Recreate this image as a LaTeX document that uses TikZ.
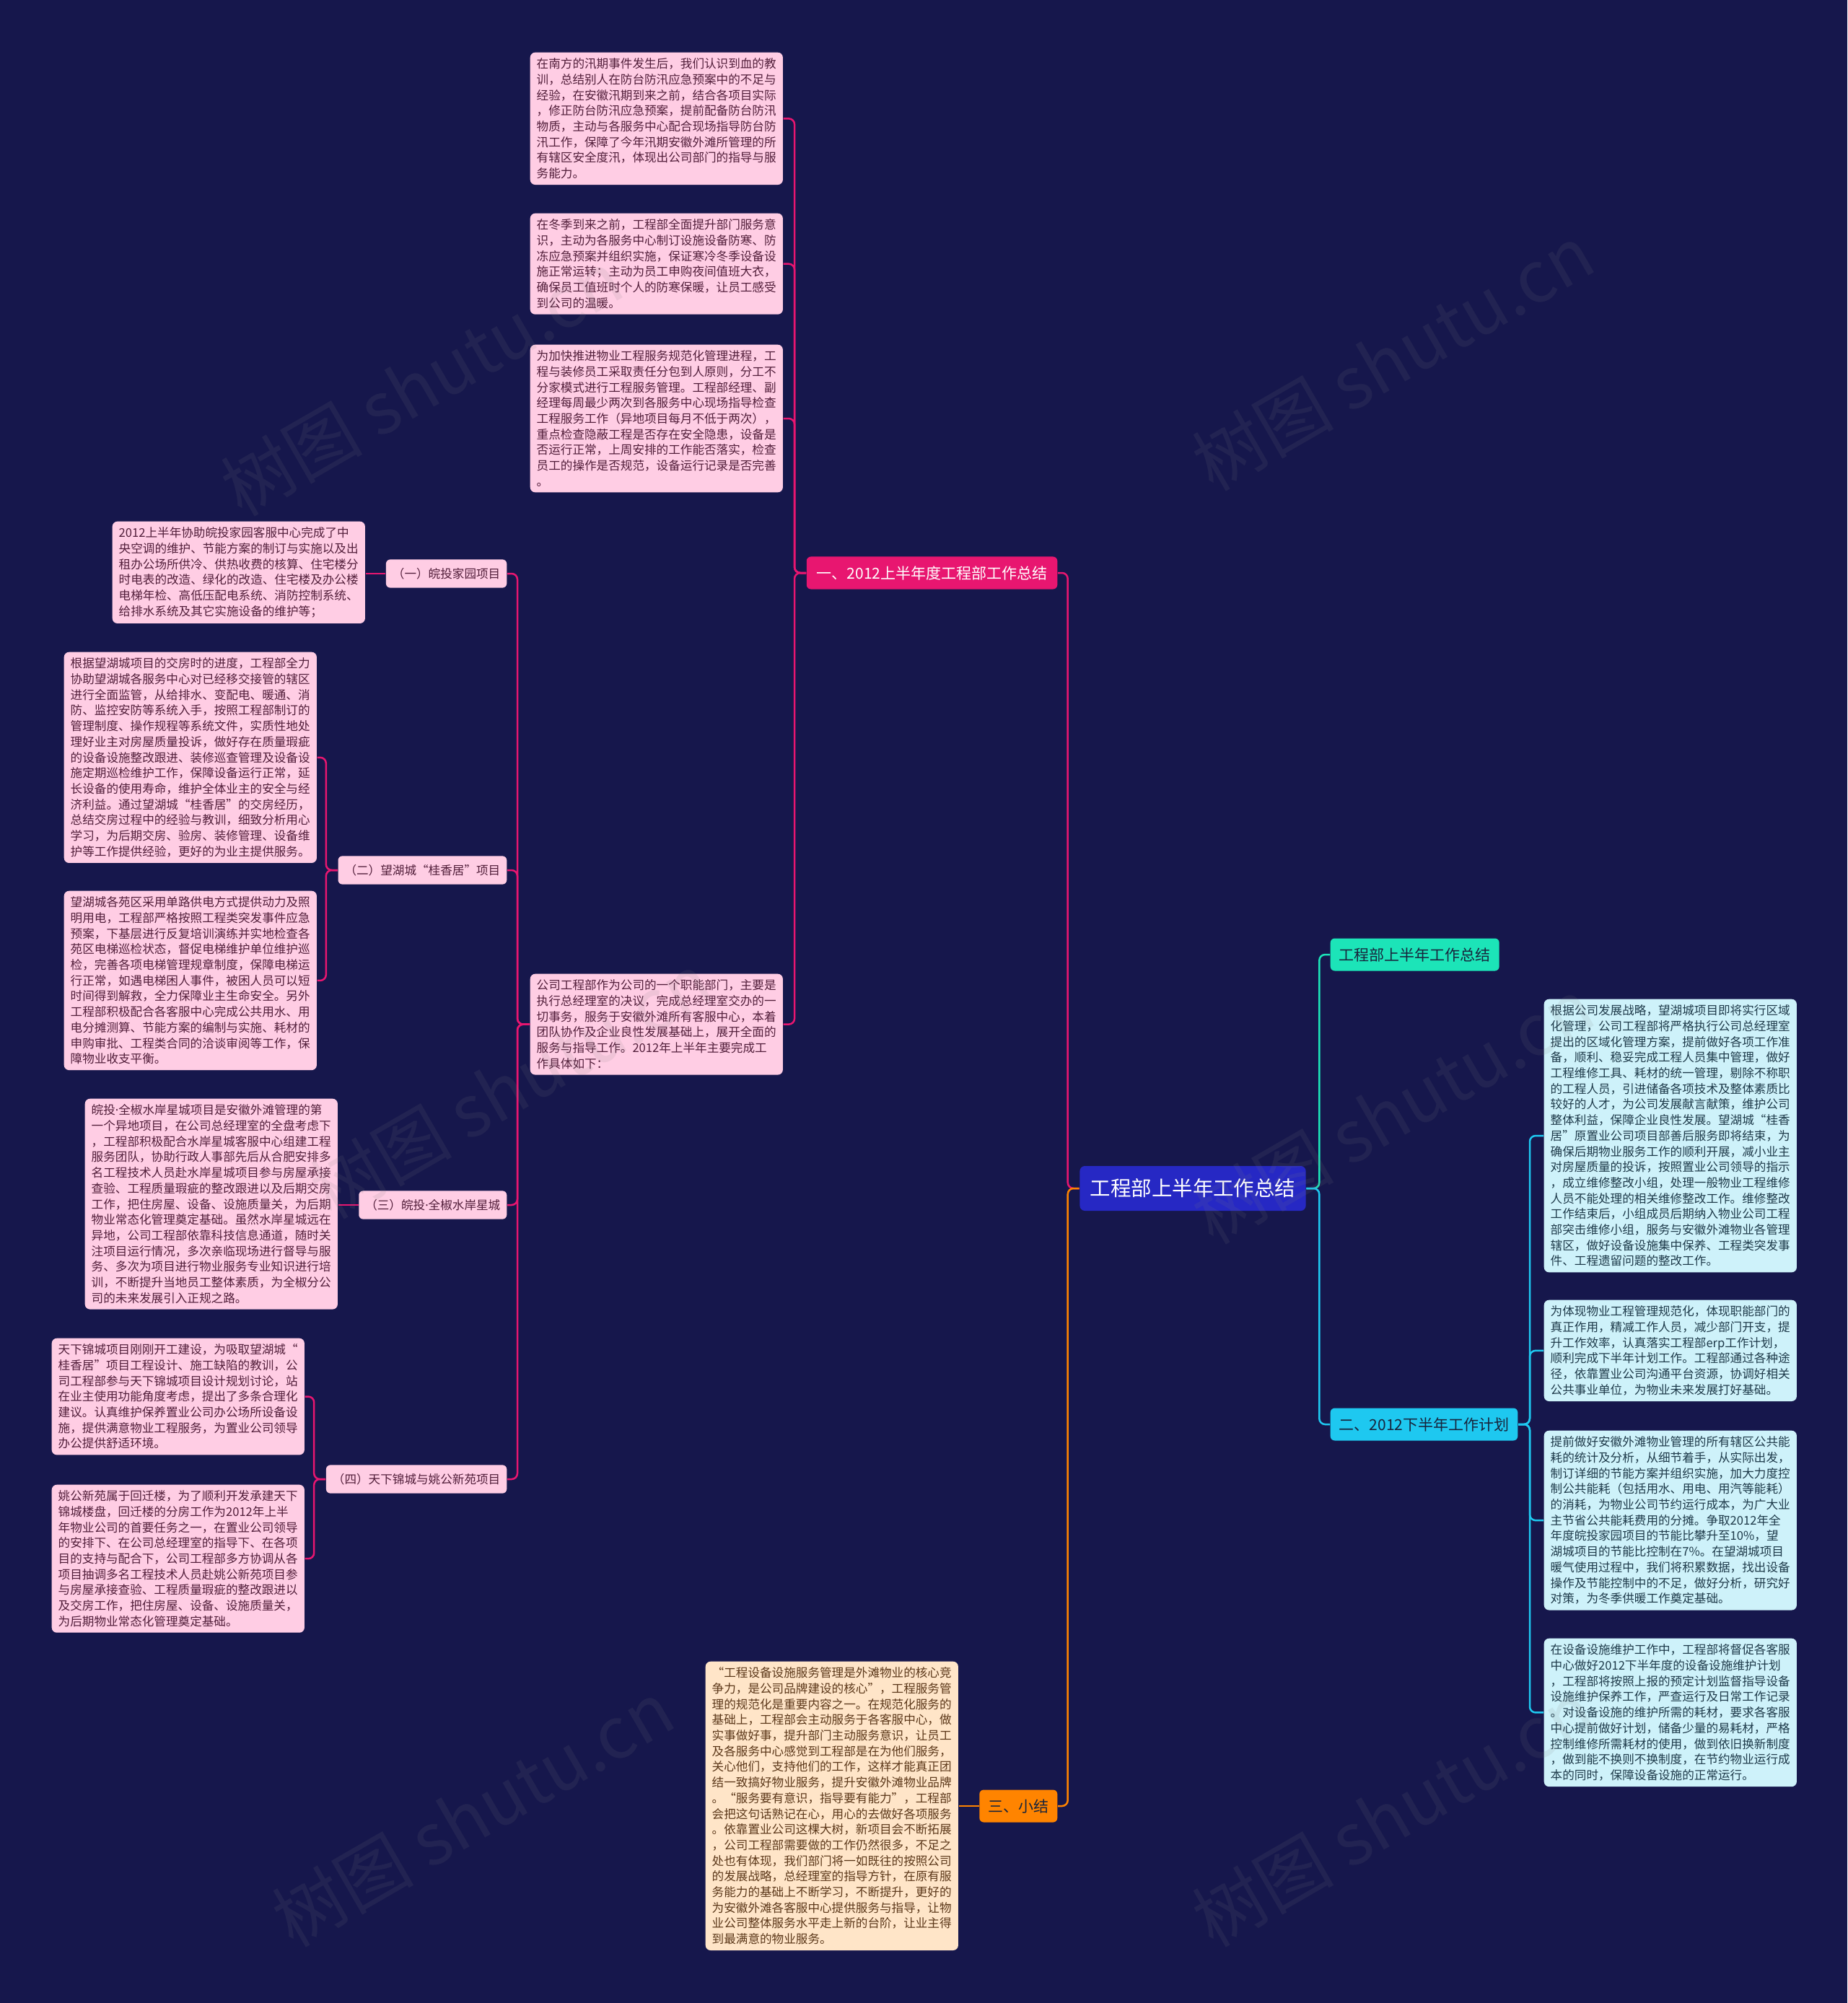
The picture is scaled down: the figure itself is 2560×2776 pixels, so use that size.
\documentclass[tikz,border=0pt]{standalone}
\usepackage{fontspec}
\setmainfont{Noto Sans CJK SC}
\newfontfamily\latinfont{Noto Sans}
\usepackage{tikz}
\definecolor{mynavy}{RGB}{22,23,76}
\definecolor{myblue}{RGB}{38,40,196}
\definecolor{mymagenta}{RGB}{232,22,112}
\definecolor{myteal}{RGB}{28,228,184}
\definecolor{mycyan}{RGB}{30,200,240}
\definecolor{myorange}{RGB}{255,132,0}
\definecolor{mypink}{RGB}{255,205,228}
\definecolor{mypinktext}{RGB}{82,30,58}
\definecolor{mypeach}{RGB}{255,229,200}
\definecolor{mypeachtext}{RGB}{92,56,26}
\definecolor{mylightcyan}{RGB}{206,242,250}
\definecolor{mycyantext}{RGB}{30,58,74}
\definecolor{mydark}{RGB}{24,36,60}
\newcommand{\middot}{{\latinfont ·}}

\begin{document}
\begin{tikzpicture}[x=0.01cm,y=-0.01cm,
  txt/.style={font=\fontsize{4.72}{6.17}\selectfont, align=left, text width=3.32cm,
    inner xsep=0.09cm, inner ysep=0.08cm, rounded corners=0.07cm, anchor=north west},
  pinkbox/.style={txt, fill=mypink, text=mypinktext},
  peachbox/.style={txt, fill=mypeach, text=mypeachtext},
  cyanbox/.style={txt, fill=mylightcyan, text=mycyantext},
  sublabel/.style={fill=mypink, text=mypinktext, font=\fontsize{4.72}{6.17}\selectfont,
    inner xsep=0.09cm, minimum height=0.36cm, rounded corners=0.06cm, anchor=east},
  branch/.style={font=\fontsize{5.97}{7}\selectfont, inner xsep=0.12cm,
    minimum height=0.45cm, rounded corners=0.06cm},
  link/.style={line width=0.025cm, rounded corners=0.08cm}]
  \fill[mynavy] (0,0) rectangle (2560,2776);
  \useasboundingbox (0,0) rectangle (2560,2776);

  % root and first level
  \node[fill=myblue, text=white, font=\fontsize{8.1}{9}\selectfont, minimum width=3.13cm,
    minimum height=0.62cm, rounded corners=0.07cm] (root) at (1653,1647) {工程部上半年工作总结};
  \node[branch, fill=mymagenta, text=white, anchor=east, inner xsep=0.14cm] (first) at (1466,794) {一、2012上半年度工程部工作总结};
  \node[branch, fill=myteal, text=mydark, anchor=west] (half) at (1843,1323) {工程部上半年工作总结};
  \node[branch, fill=mycyan, text=mydark, anchor=west] (plan) at (1843,1974) {二、2012下半年工作计划};
  \node[branch, fill=myorange, text=mydark, anchor=east] (wrapup) at (1466,2503) {三、小结};

  % 2012 first half
  \node[pinkbox] (flood) at (734,72) {在南方的汛期事件发生后，我们认识到血的教\\训，总结别人在防台防汛应急预案中的不足与\\经验，在安徽汛期到来之前，结合各项目实际\\，修正防台防汛应急预案，提前配备防台防汛\\物质，主动与各服务中心配合现场指导防台防\\汛工作，保障了今年汛期安徽外滩所管理的所\\有辖区安全度汛，体现出公司部门的指导与服\\务能力。};
  \node[pinkbox] (winter) at (734,295) {在冬季到来之前，工程部全面提升部门服务意\\识，主动为各服务中心制订设施设备防寒、防\\冻应急预案并组织实施，保证寒冷冬季设备设\\施正常运转；主动为员工申购夜间值班大衣，\\确保员工值班时个人的防寒保暖，让员工感受\\到公司的温暖。};
  \node[pinkbox] (inspect) at (734,477) {为加快推进物业工程服务规范化管理进程，工\\程与装修员工采取责任分包到人原则，分工不\\分家模式进行工程服务管理。工程部经理、副\\经理每周最少两次到各服务中心现场指导检查\\工程服务工作（异地项目每月不低于两次），\\重点检查隐蔽工程是否存在安全隐患，设备是\\否运行正常，上周安排的工作能否落实，检查\\员工的操作是否规范，设备运行记录是否完善\\。};
  \node[pinkbox] (intro) at (734,1349) {公司工程部作为公司的一个职能部门，主要是\\执行总经理室的决议，完成总经理室交办的一\\切事务，服务于安徽外滩所有客服中心，本着\\团队协作及企业良性发展基础上，展开全面的\\服务与指导工作。2012年上半年主要完成工\\作具体如下：};

  % projects
  \node[sublabel] (wantou) at (703,795) {（一）皖投家园项目};
  \node[sublabel] (wanghu) at (703,1206) {（二）望湖城“桂香居”项目};
  \node[sublabel] (shuian) at (703,1670) {（三）皖投\middot 全椒水岸星城};
  \node[sublabel] (jincheng) at (703,2050) {（四）天下锦城与姚公新苑项目};

  \node[pinkbox] (aircon) at (155,722) {2012上半年协助皖投家园客服中心完成了中\\央空调的维护、节能方案的制订与实施以及出\\租办公场所供冷、供热收费的核算、住宅楼分\\时电表的改造、绿化的改造、住宅楼及办公楼\\电梯年检、高低压配电系统、消防控制系统、\\给排水系统及其它实施设备的维护等；};
  \node[pinkbox] (handover) at (88,903) {根据望湖城项目的交房时的进度，工程部全力\\协助望湖城各服务中心对已经移交接管的辖区\\进行全面监管，从给排水、变配电、暖通、消\\防、监控安防等系统入手，按照工程部制订的\\管理制度、操作规程等系统文件，实质性地处\\理好业主对房屋质量投诉，做好存在质量瑕疵\\的设备设施整改跟进、装修巡查管理及设备设\\施定期巡检维护工作，保障设备运行正常，延\\长设备的使用寿命，维护全体业主的安全与经\\济利益。通过望湖城“桂香居”的交房经历，\\总结交房过程中的经验与教训，细致分析用心\\学习，为后期交房、验房、装修管理、设备维\\护等工作提供经验，更好的为业主提供服务。};
  \node[pinkbox] (elevator) at (88,1234) {望湖城各苑区采用单路供电方式提供动力及照\\明用电，工程部严格按照工程类突发事件应急\\预案，下基层进行反复培训演练并实地检查各\\苑区电梯巡检状态，督促电梯维护单位维护巡\\检，完善各项电梯管理规章制度，保障电梯运\\行正常，如遇电梯困人事件，被困人员可以短\\时间得到解救，全力保障业主生命安全。另外\\工程部积极配合各客服中心完成公共用水、用\\电分摊测算、节能方案的编制与实施、耗材的\\申购审批、工程类合同的洽谈审阅等工作，保\\障物业收支平衡。};
  \node[pinkbox] (remote) at (117,1522) {皖投\middot 全椒水岸星城项目是安徽外滩管理的第\\一个异地项目，在公司总经理室的全盘考虑下\\，工程部积极配合水岸星城客服中心组建工程\\服务团队，协助行政人事部先后从合肥安排多\\名工程技术人员赴水岸星城项目参与房屋承接\\查验、工程质量瑕疵的整改跟进以及后期交房\\工作，把住房屋、设备、设施质量关，为后期\\物业常态化管理奠定基础。虽然水岸星城远在\\异地，公司工程部依靠科技信息通道，随时关\\注项目运行情况，多次亲临现场进行督导与服\\务、多次为项目进行物业服务专业知识进行培\\训，不断提升当地员工整体素质，为全椒分公\\司的未来发展引入正规之路。};
  \node[pinkbox] (design) at (71,1854) {天下锦城项目刚刚开工建设，为吸取望湖城“\\桂香居”项目工程设计、施工缺陷的教训，公\\司工程部参与天下锦城项目设计规划讨论，站\\在业主使用功能角度考虑，提出了多条合理化\\建议。认真维护保养置业公司办公场所设备设\\施，提供满意物业工程服务，为置业公司领导\\办公提供舒适环境。};
  \node[pinkbox] (yaogong) at (71,2057) {姚公新苑属于回迁楼，为了顺利开发承建天下\\锦城楼盘，回迁楼的分房工作为2012年上半\\年物业公司的首要任务之一，在置业公司领导\\的安排下、在公司总经理室的指导下、在各项\\目的支持与配合下，公司工程部多方协调从各\\项目抽调多名工程技术人员赴姚公新苑项目参\\与房屋承接查验、工程质量瑕疵的整改跟进以\\及交房工作，把住房屋、设备、设施质量关，\\为后期物业常态化管理奠定基础。};

  % 2012 second half
  \node[cyanbox] (region) at (2139,1384) {根据公司发展战略，望湖城项目即将实行区域\\化管理，公司工程部将严格执行公司总经理室\\提出的区域化管理方案，提前做好各项工作准\\备，顺利、稳妥完成工程人员集中管理，做好\\工程维修工具、耗材的统一管理，剔除不称职\\的工程人员，引进储备各项技术及整体素质比\\较好的人才，为公司发展献言献策，维护公司\\整体利益，保障企业良性发展。望湖城“桂香\\居”原置业公司项目部善后服务即将结束，为\\确保后期物业服务工作的顺利开展，减小业主\\对房屋质量的投诉，按照置业公司领导的指示\\，成立维修整改小组，处理一般物业工程维修\\人员不能处理的相关维修整改工作。维修整改\\工作结束后，小组成员后期纳入物业公司工程\\部突击维修小组，服务与安徽外滩物业各管理\\辖区，做好设备设施集中保养、工程类突发事\\件、工程遗留问题的整改工作。};
  \node[cyanbox] (erp) at (2139,1801) {为体现物业工程管理规范化，体现职能部门的\\真正作用，精减工作人员，减少部门开支，提\\升工作效率，认真落实工程部erp工作计划，\\顺利完成下半年计划工作。工程部通过各种途\\径，依靠置业公司沟通平台资源，协调好相关\\公共事业单位，为物业未来发展打好基础。};
  \node[cyanbox] (energy) at (2139,1982) {提前做好安徽外滩物业管理的所有辖区公共能\\耗的统计及分析，从细节着手，从实际出发，\\制订详细的节能方案并组织实施，加大力度控\\制公共能耗（包括用水、用电、用汽等能耗）\\的消耗，为物业公司节约运行成本，为广大业\\主节省公共能耗费用的分摊。争取2012年全\\年度皖投家园项目的节能比攀升至10\%，望\\湖城项目的节能比控制在7\%。在望湖城项目\\暖气使用过程中，我们将积累数据，找出设备\\操作及节能控制中的不足，做好分析，研究好\\对策，为冬季供暖工作奠定基础。};
  \node[cyanbox] (upkeep) at (2139,2270) {在设备设施维护工作中，工程部将督促各客服\\中心做好2012下半年度的设备设施维护计划\\，工程部将按照上报的预定计划监督指导设备\\设施维护保养工作，严查运行及日常工作记录\\。对设备设施的维护所需的耗材，要求各客服\\中心提前做好计划，储备少量的易耗材，严格\\控制维修所需耗材的使用，做到依旧换新制度\\，做到能不换则不换制度，在节约物业运行成\\本的同时，保障设备设施的正常运行。};

  % summary
  \node[peachbox] (summary) at (977,2302) {“工程设备设施服务管理是外滩物业的核心竞\\争力，是公司品牌建设的核心”，工程服务管\\理的规范化是重要内容之一。在规范化服务的\\基础上，工程部会主动服务于各客服中心，做\\实事做好事，提升部门主动服务意识，让员工\\及各服务中心感觉到工程部是在为他们服务，\\关心他们，支持他们的工作，这样才能真正团\\结一致搞好物业服务，提升安徽外滩物业品牌\\。“服务要有意识，指导要有能力”，工程部\\会把这句话熟记在心，用心的去做好各项服务\\。依靠置业公司这棵大树，新项目会不断拓展\\，公司工程部需要做的工作仍然很多，不足之\\处也有体现，我们部门将一如既往的按照公司\\的发展战略，总经理室的指导方针，在原有服\\务能力的基础上不断学习，不断提升，更好的\\为安徽外滩各客服中心提供服务与指导，让物\\业公司整体服务水平走上新的台阶，让业主得\\到最满意的物业服务。};

  % links
  \draw[link, mymagenta] (root.west) -- ++(-16,0) |- (first.east);
  \draw[link, myorange] (root.west) -- ++(-16,0) |- (wrapup.east);
  \draw[link, myteal] (root.east) -- ++(18,0) |- (half.west);
  \draw[link, mycyan] (root.east) -- ++(18,0) |- (plan.west);
  \foreach \n in {flood, winter, inspect, intro}
    \draw[link, mymagenta] (first.west) -- ++(-16,0) |- (\n.east);
  \foreach \n in {wantou, wanghu, shuian, jincheng}
    \draw[link, mymagenta] (intro.west) -- ++(-17,0) |- (\n.east);
  \draw[link, mymagenta] (wantou.west) -- (wantou.west -| aircon.east);
  \draw[link, mymagenta] (wanghu.west) -- ++(-16,0) |- (handover.east);
  \draw[link, mymagenta] (wanghu.west) -- ++(-16,0) |- (elevator.east);
  \draw[link, mymagenta] (shuian.west) -- (shuian.west -| remote.east);
  \draw[link, mymagenta] (jincheng.west) -- ++(-16,0) |- (design.east);
  \draw[link, mymagenta] (jincheng.west) -- ++(-16,0) |- (yaogong.east);
  \foreach \n in {region, erp, energy, upkeep}
    \draw[link, mycyan] (plan.east) -- ++(16,0) |- (\n.west);
  \draw[link, myorange] (wrapup.west) -- (wrapup.west -| summary.east);

  % watermark
  \foreach \wx/\wy [count=\i] in {584/531, 1930/496, 708/1505, 1930/1540, 655/2514, 1930/2514}
    \node[rotate=30, text=gray, text opacity=0.12, font=\fontsize{28}{30}\selectfont] (wm\i) at (\wx,\wy) {树图 shutu.cn};
\end{tikzpicture}
\end{document}
